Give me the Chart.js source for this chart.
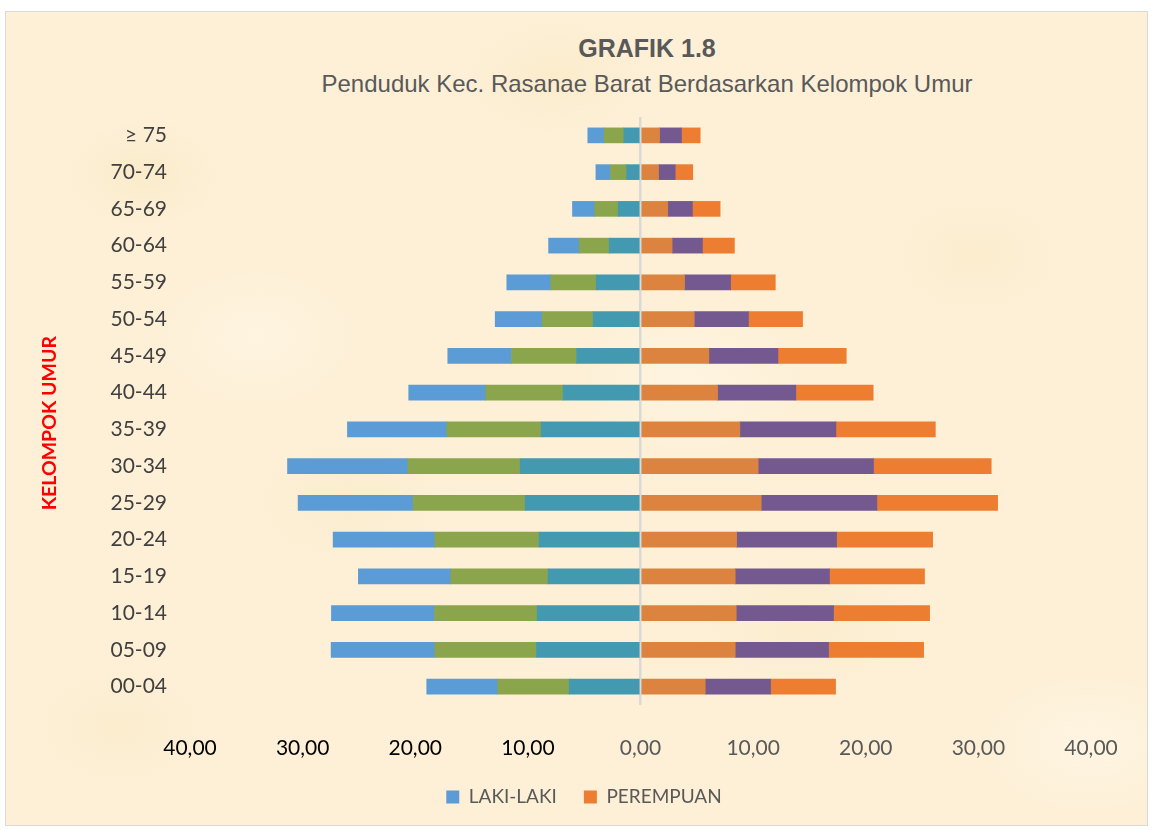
<!DOCTYPE html>
<html>
<head>
<meta charset="utf-8">
<script src="https://cdn.jsdelivr.net/npm/chart.js@4.4.1/dist/chart.umd.min.js"></script>
<style>
html,body{margin:0;padding:0;background:#fff;width:1153px;height:830px;overflow:hidden;}
#frame{position:absolute;left:5px;top:11px;width:1141px;height:813px;border:1px solid #d9d9d9;
  background-color:#fdf0d7;
  background-image:
    radial-gradient(ellipse 120px 80px at 12% 20%, rgba(246,226,180,0.35), rgba(246,226,180,0) 70%),
    radial-gradient(ellipse 140px 90px at 48% 8%, rgba(248,228,184,0.35), rgba(248,228,184,0) 70%),
    radial-gradient(ellipse 130px 90px at 85% 30%, rgba(247,227,182,0.3), rgba(247,227,182,0) 70%),
    radial-gradient(ellipse 150px 100px at 30% 60%, rgba(247,228,184,0.3), rgba(247,228,184,0) 70%),
    radial-gradient(ellipse 160px 110px at 70% 75%, rgba(247,227,182,0.3), rgba(247,227,182,0) 70%),
    radial-gradient(ellipse 130px 90px at 10% 88%, rgba(247,227,182,0.3), rgba(247,227,182,0) 70%),
    radial-gradient(ellipse 150px 100px at 95% 90%, rgba(255,249,236,0.5), rgba(255,249,236,0) 70%),
    radial-gradient(ellipse 160px 110px at 60% 45%, rgba(255,248,234,0.45), rgba(255,248,234,0) 70%),
    radial-gradient(ellipse 140px 100px at 22% 40%, rgba(255,248,234,0.45), rgba(255,248,234,0) 70%);
}
.t{position:absolute;text-align:center;color:#595959;font-family:"Liberation Sans",Arial,sans-serif;white-space:nowrap;}
#title{left:347px;width:600px;top:35.8px;font-size:25px;line-height:25px;font-weight:bold;}
#subtitle{left:247px;width:800px;top:72.3px;font-size:24px;line-height:24px;}
#c{position:absolute;left:0;top:0;}
</style>
</head>
<body>
<div id="frame"></div>
<div class="t" id="title">GRAFIK 1.8</div>
<div class="t" id="subtitle">Penduduk Kec. Rasanae Barat Berdasarkan Kelompok Umur</div>
<canvas id="c" width="1153" height="830"></canvas>
<script>
const categories = ['≥ 75','70-74','65-69','60-64','55-59','50-54','45-49','40-44','35-39','30-34','25-29','20-24','15-19','10-14','05-09','00-04'];
// LAKI-LAKI segments (from zero outward)
const lakiA = [1.48,1.24,1.98,2.78,3.93,4.20,5.68,6.87,8.82,10.68,10.24,9.00,8.20,9.17,9.24,6.33];
const lakiB = [1.75,1.42,2.08,2.66,4.03,4.53,5.77,6.87,8.38,9.98,9.95,9.27,8.65,9.12,9.03,6.34];
const lakiC = [1.45,1.30,1.98,2.72,3.91,4.17,5.66,6.84,8.82,10.68,10.21,9.02,8.20,9.15,9.20,6.31];
// PEREMPUAN segments (from zero outward)
const perA = [1.69,1.60,2.42,2.81,3.91,4.77,6.07,6.84,8.82,10.45,10.72,8.53,8.41,8.50,8.41,5.75];
const perB = [1.95,1.48,2.19,2.69,4.09,4.82,6.13,6.95,8.53,10.24,10.27,8.88,8.37,8.64,8.29,5.80];
const perC = [1.66,1.56,2.46,2.84,3.97,4.80,6.07,6.87,8.83,10.45,10.72,8.53,8.44,8.53,8.44,5.77];
const xTicks = [-40,-30,-20,-10,0,10,20,30,40];

const neg = a => a.map(v => -v);
const ds = (label, data, color, inLegend) => ({label, data, backgroundColor: color, borderWidth: 0, inLegend, barThickness: 15});

new Chart(document.getElementById('c'), {
  type: 'bar',
  data: {
    labels: categories,
    datasets: [
      ds('LAKI-LAKI (a)', neg(lakiA), '#4299b0', false),
      ds('LAKI-LAKI (b)', neg(lakiB), '#8aa54c', false),
      ds('LAKI-LAKI', neg(lakiC), '#5b9bd6', true),
      ds('PEREMPUAN (a)', perA, '#dc843f', false),
      ds('PEREMPUAN (b)', perB, '#735990', false),
      ds('PEREMPUAN', perC, '#ed7d31', true)
    ]
  },
  options: {
    responsive: false,
    animation: false,
    indexAxis: 'y',
    layout: {padding: {left: 15, right: 0, top: 117, bottom: 13.5}},
    scales: {
      x: {
        type: 'linear', stacked: true, min: -40, max: 40, z: 1,
        afterBuildTicks: s => { s.ticks = xTicks.map(v => ({value: v})); },
        grid: {
          drawTicks: false,
          color: c => (c.tick && c.tick.value === 0) ? '#d9d9d9' : 'rgba(0,0,0,0)',
          lineWidth: 2.5
        },
        border: {display: false},
        ticks: {
          padding: 31, autoSkip: false, maxRotation: 0,
          font: {family: 'Lato', size: 21},
          color: c => c.tick.value < 0 ? '#000000' : '#595959',
          callback: v => Math.abs(v).toFixed(2).replace('.', ',')
        },
        afterFit: s => { s.height = 55.5; }
      },
      y: {
        type: 'category', stacked: true,
        grid: {display: false, drawTicks: false},
        border: {display: false},
        ticks: {padding: 23, font: {family: 'Lato', size: 21}, color: '#404040'},
        title: {
          display: true, text: 'KELOMPOK UMUR\u2003\u2002', color: '#ff0000',
          font: {family: 'Lato', size: 19.5, weight: 'bold'},
          padding: {top: 23.3, bottom: 0}
        },
        afterFit: s => { s.width = 175; }
      },
      y2: {
        type: 'linear', position: 'right', display: true,
        grid: {display: false, drawTicks: false}, border: {display: false},
        ticks: {display: false},
        afterFit: s => { s.width = 62; }
      }
    },
    plugins: {
      legend: {
        position: 'bottom',
        labels: {
          boxWidth: 13, boxHeight: 13, padding: 27,
          font: {family: 'Lato', size: 19}, color: '#595959',
          filter: (item, data) => data.datasets[item.datasetIndex].inLegend
        }
      },
      tooltip: {enabled: false},
      title: {display: false}
    }
  }
});
</script>
</body>
</html>
